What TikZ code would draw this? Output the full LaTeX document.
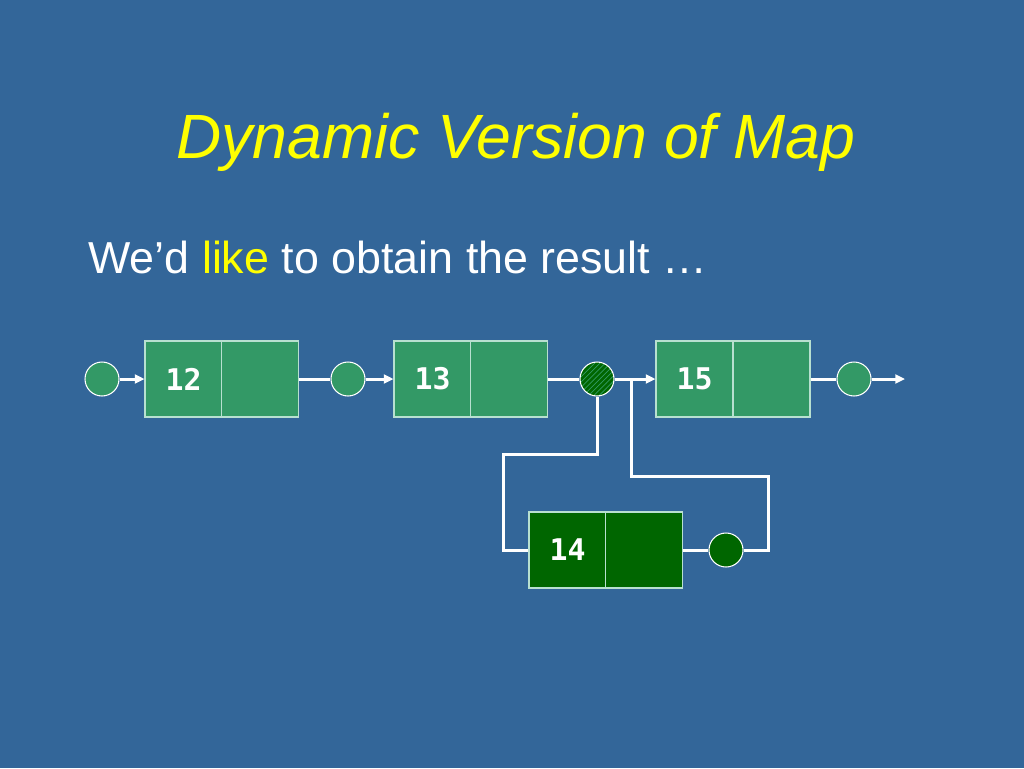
\documentclass[tikz,border=0pt]{standalone}
\usepackage{fontspec}
\setmainfont{Liberation Sans}
\newfontfamily\monofont{DejaVu Sans Mono}
\usetikzlibrary{arrows.meta, patterns}
\definecolor{bgblue}{HTML}{336699}
\definecolor{boxgreen}{HTML}{339966}
\definecolor{dkgreen}{HTML}{006600}
\definecolor{boxline}{HTML}{B8E0D0}
\definecolor{titleyellow}{HTML}{FFFF00}

\begin{document}
\begin{tikzpicture}[x=0.02cm,y=-0.02cm,
  cell/.style={rectangle,draw=boxline,line width=0.6pt,fill=boxgreen,minimum width=1.54cm,minimum height=1.52cm,inner sep=0pt,text=white,font=\monofont\bfseries\fontsize{17}{20}\selectfont},
  newcell/.style={cell,fill=dkgreen},
  ptr/.style={circle,draw=white,line width=0.6pt,fill=boxgreen,minimum size=0.68cm,inner sep=0pt},
  link/.style={white,line width=1.7pt},
  tip/.style={-{Triangle[length=5.5pt,width=5pt]}}]
\fill[bgblue] (0,0) rectangle (1024,768);
\useasboundingbox (0,0) rectangle (1024,768);
\node[anchor=base,text=titleyellow,font=\itshape\fontsize{35.6}{42}\selectfont] (title) at (516,158) {Dynamic Version of Map};
\node[anchor=base west,inner sep=0pt,text=white,font=\fontsize{25.5}{30}\selectfont] (sub) at (88,273) {We’d \textcolor{titleyellow}{like} to obtain the result …};
\node[cell] (k12) at (183.5,379) {12};
\node[cell] (n12) at (260,379) {};
\node[cell] (k13) at (432.5,379) {13};
\node[cell] (n13) at (509,379) {};
\node[cell] (k15) at (694.5,379) {15};
\node[cell] (n15) at (771.5,379) {};
\node[newcell] (k14) at (567.5,550) {14};
\node[newcell] (n14) at (644,550) {};
\node[ptr] (p0) at (102,379) {};
\node[ptr] (p1) at (348,379) {};
\node[ptr,preaction={fill=dkgreen},pattern=north east lines,pattern color=boxgreen] (p2) at (597,379) {};
\node[ptr] (p3) at (854,379) {};
\node[ptr,fill=dkgreen] (p4) at (726,550) {};
\coordinate (tail) at (905,379);
\coordinate (merge) at (631,379);
\coordinate (bendA) at (503,454);
\coordinate (bendB) at (768,476);
\draw[link,tip] (p0) -- (k12.west);
\draw[link] (n12.east) -- (p1);
\draw[link,tip] (p1) -- (k13.west);
\draw[link] (n13.east) -- (p2);
\draw[link,tip] (p2) -- (k15.west);
\draw[link] (n15.east) -- (p3);
\draw[link,tip] (p3) -- (tail);
\draw[link] (p2) |- (bendA) |- (k14.west);
\draw[link] (n14.east) -- (p4);
\draw[link] (p4) -| (bendB) -| (merge);
\end{tikzpicture}
\end{document}
